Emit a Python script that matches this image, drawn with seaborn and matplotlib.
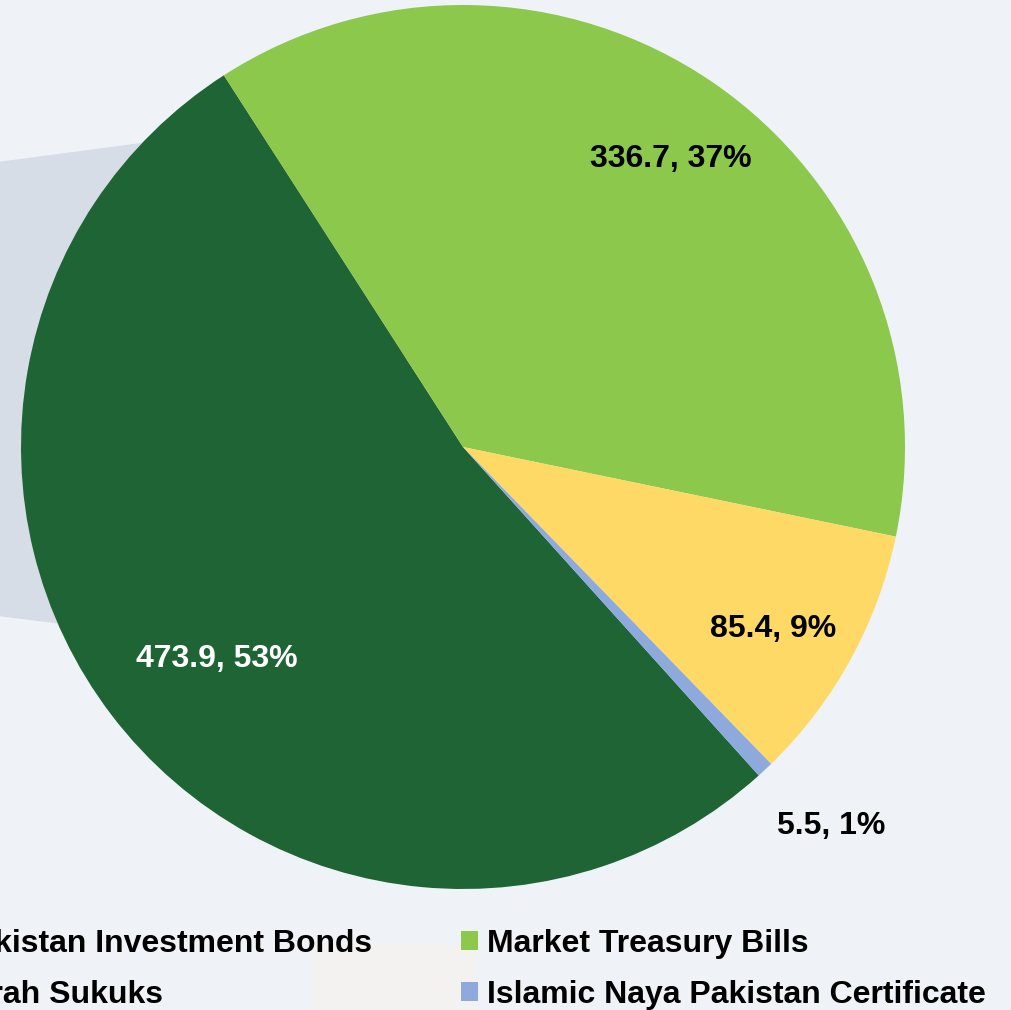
import numpy as np
import matplotlib
matplotlib.use("Agg")
import matplotlib.pyplot as plt
from matplotlib.patches import Polygon, Rectangle, Patch
import seaborn as sns

categories = ["Pakistan Investment Bonds", "Market Treasury Bills",
              "Ijarah Sukuks", "Islamic Naya Pakistan Certificate"]
values = [473.9, 336.7, 85.4, 5.5]
colors = ["#1f6434", "#8bc84b", "#ffd966", "#8eaadc"]
label_colors = ["white", "black", "black", "black"]
label_radius = [0.73, 0.81, 0.81, 1.19]
label_shift = [2.8, -1.0, -1.1, 1.3]  # degrees, nudges off the wedge middle

sns.set_style("white")
plt.rcParams["font.family"] = ["Liberation Sans", "DejaVu Sans"]
plt.rcParams["text.color"] = "black"

bg = "#eff3f8"
fig = plt.figure(figsize=(10.12, 10.10), dpi=100, facecolor=bg)

# decorative grey backdrop behind the pie
fig.patches.append(Polygon([(-0.01, 1 - 163 / 1010), (0.40, 1 - 108 / 1010),
                            (0.40, 1 - 667 / 1010), (-0.01, 1 - 615 / 1010)],
                           closed=True, transform=fig.transFigure,
                           facecolor="#d6dde7", edgecolor="none", zorder=-2))
fig.patches.append(Rectangle((313 / 1012, 0), 163 / 1012, 65 / 1010,
                             transform=fig.transFigure, facecolor="#f3f2f0",
                             edgecolor="none", zorder=-2))

ax = fig.add_axes([21 / 1012, 121 / 1010, 884 / 1012, 884 / 1010])
ax.patch.set_visible(False)

wedges, _ = ax.pie(values, colors=colors, startangle=312, counterclock=False,
                   radius=1.0, wedgeprops=dict(linewidth=0))
ax.set_xlim(-1, 1)
ax.set_ylim(-1, 1)
ax.set_aspect("equal")
ax.axis("off")

total = sum(values)
for w, v, c, r, s in zip(wedges, values, label_colors, label_radius, label_shift):
    mid = np.deg2rad((w.theta1 + w.theta2) / 2 + s)
    ax.text(r * np.cos(mid), r * np.sin(mid), f"{v}, {v / total * 100:.0f}%",
            ha="center", va="center_baseline", fontsize=23, fontweight="bold",
            color=c, clip_on=False)

handles = [Patch(facecolor=colors[i], edgecolor="none") for i in [0, 2, 1, 3]]
labels = [categories[i] for i in [0, 2, 1, 3]]
leg = fig.legend(handles, labels, ncol=2, loc="upper left",
                 bbox_to_anchor=(-71 / 1012, 1 - 929 / 1010), frameon=False,
                 prop=dict(size=23, weight="bold"), handlelength=0.52,
                 handleheight=0.55, handletextpad=0.28, columnspacing=2.8,
                 labelspacing=0.65, borderpad=0, borderaxespad=0)
for t in leg.get_texts():
    t.set_color("black")

fig.savefig("out.png", dpi=100, facecolor=bg)
